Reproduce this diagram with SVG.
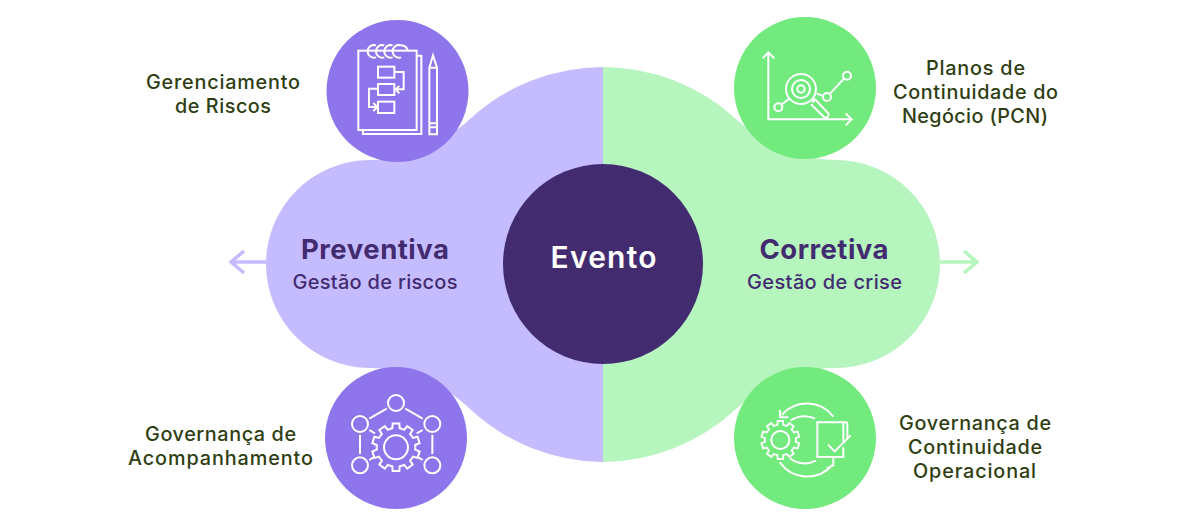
<svg xmlns="http://www.w3.org/2000/svg" width="1200" height="528" viewBox="0 0 1200 528">
<style>
text{font-family:"Inter","Noto Sans",sans-serif;text-anchor:middle;font-variant-ligatures:none}
.lab{font-size:19.800px;fill:#2f3d12;font-weight:500}
.t{font-size:27.500px;font-weight:700;fill:#432b70}
.s{font-size:20px;fill:#432b70;font-weight:500}
.i{fill:none;stroke:#fff;stroke-width:6;stroke-linejoin:miter;stroke-linecap:butt}
</style>
<defs>
<path id="tooth" d="M-17.9-55.2 L-11-57 L-10-71.3 L10-71.3 L11-57 L17.9-55.2"/>
<g id="gear">
<use href="#tooth"/><use href="#tooth" transform="rotate(36)"/><use href="#tooth" transform="rotate(72)"/><use href="#tooth" transform="rotate(108)"/><use href="#tooth" transform="rotate(144)"/><use href="#tooth" transform="rotate(180)"/><use href="#tooth" transform="rotate(216)"/><use href="#tooth" transform="rotate(252)"/><use href="#tooth" transform="rotate(288)"/><use href="#tooth" transform="rotate(324)"/>
</g>
</defs>
<g id="connectors">
<path d="M267 262H232M244 251L231 262L244 273" fill="none" stroke="#c5bcff" stroke-width="3.500"/>
<path d="M940 262H976M964 251L977 262L964 273" fill="none" stroke="#b6f5bd" stroke-width="3.500"/>
</g>
<g id="node-preventiva">
<path fill="#c5bcff" d="M603 67A197.5 197.5 0 0 0 470 119C445 142 410 160 370 160A104 104 0 0 0 370 368C410 368 445 385 470 409A197.5 197.5 0 0 0 603 462Z"/>
<text class="t" x="375" y="259" textLength="148" lengthAdjust="spacing">Preventiva</text>
<text class="s" x="375" y="289" textLength="165" lengthAdjust="spacing">Gestão de riscos</text>
</g>
<g id="node-corretiva">
<path fill="#b6f5bd" d="M603 67A197.5 197.5 0 0 1 736 119C761 142 796 160 836 160A104 104 0 0 1 836 368C796 368 761 385 736 409A197.5 197.5 0 0 1 603 462Z"/>
<text class="t" x="824" y="259" textLength="129" lengthAdjust="spacing">Corretiva</text>
<text class="s" x="824.500" y="289" textLength="155" lengthAdjust="spacing">Gestão de crise</text>
</g>
<g id="node-evento">
<circle cx="603" cy="264" r="100" fill="#432b70"/>
<text x="603.500" y="268" font-size="30" font-weight="600" fill="#fff" textLength="106" lengthAdjust="spacing">Evento</text>
</g>
<g id="node-gerenciamento">
<circle cx="397.500" cy="91" r="71" fill="#8e75ec"/>
<g transform="translate(320,10) scale(.33333)" class="i">
<rect x="115" y="122" width="175" height="238"/>
<path d="M290 137H304V372H129V360"/>
<path d="M168 106a19 19 0 1 0 0 36M193 106a19 19 0 1 0 0 36M218 106a19 19 0 1 0 0 36M243 106a19 19 0 1 0 0 36M150 108q9-5 18-2M175 108q9-5 18-2M200 108q9-5 18-2M225 108q9-5 18-2M243 106q17 1 20 16"/>
<rect x="174" y="170" width="49" height="33"/>
<rect x="174" y="222" width="49" height="33"/>
<rect x="174" y="275" width="49" height="34"/>
<path d="M223 186H251V238H228M238 228L227 238L238 250"/>
<path d="M174 236H147V291H170M160 279L172 291L160 303"/>
<path d="M328 173L339 136L351 173V373H328ZM328 173H351M328 340H351M328 352H351"/>
</g>
<text class="lab" x="223" y="89" textLength="154" lengthAdjust="spacing">Gerenciamento</text>
<text class="lab" x="223" y="113" textLength="96" lengthAdjust="spacing">de Riscos</text>
</g>
<g id="node-planos">
<circle cx="805" cy="88" r="71" fill="#72ea7e"/>
<g transform="translate(725,10) scale(.33333)" class="i">
<path d="M130 128V328H378M113 145L130 127L148 145M362 310L380 328L362 346"/>
<circle cx="228" cy="237" r="45"/>
<circle cx="228" cy="237" r="27"/>
<circle cx="228" cy="237" r="11"/>
<path d="M261 275L270 268L310 310A9 9 0 0 1 298 322L258 283M270 268L262 277"/>
<circle cx="160" cy="292" r="12"/>
<circle cx="306" cy="261" r="12"/>
<circle cx="366" cy="197" r="12"/>
<path d="M171 283L193 266M275 251L295 258M315 251L357 206"/>
</g>
<text class="lab" x="975.500" y="75" textLength="99" lengthAdjust="spacing">Planos de</text>
<text class="lab" x="975.500" y="99" textLength="165" lengthAdjust="spacing">Continuidade do</text>
<text class="lab" x="975" y="123" textLength="146" lengthAdjust="spacing">Negócio (PCN)</text>
</g>
<g id="node-acompanhamento">
<circle cx="396" cy="438" r="71" fill="#8e75ec"/>
<g transform="translate(320,360) scale(.33333)" class="i">
<circle cx="228" cy="129" r="24"/>
<circle cx="120" cy="192" r="24"/>
<circle cx="337" cy="192" r="24"/>
<circle cx="120" cy="316" r="24"/>
<circle cx="337" cy="316" r="24"/>
<path d="M148 176L200 146M256 146L308 176M120 224V282M337 224V282M148 210L165 220M290 220L308 210M148 300L165 290M290 290L308 300"/>
<use href="#gear" transform="translate(228,262)"/>
<circle cx="228" cy="262" r="36"/>
</g>
<text class="lab" x="220.500" y="441" textLength="151" lengthAdjust="spacing">Governança de</text>
<text class="lab" x="220.500" y="465" textLength="185" lengthAdjust="spacing">Acompanhamento</text>
</g>
<g id="node-governanca">
<circle cx="805" cy="438" r="71" fill="#72ea7e"/>
<g transform="translate(725,360) scale(.33333)" class="i">
<use href="#gear" transform="translate(166,240) scale(.8)" style="stroke-width:7"/>
<circle cx="166" cy="240" r="27"/>
<path d="M355 262V291H277V187H362Q367 187 367 193V236M355 187V248"/>
<path d="M309 254L329 274L377 226"/>
<path d="M325 170A100 100 0 0 0 170 165M165 150V172H190"/>
<path d="M197 182A70 70 0 0 1 270 176"/>
<path d="M164 306A100 100 0 0 0 322 315M305 325L325 316L325 295"/>
<path d="M195 295A70 70 0 0 0 272 302"/>
</g>
<text class="lab" x="975" y="430" textLength="152" lengthAdjust="spacing">Governança de</text>
<text class="lab" x="975" y="454" textLength="134" lengthAdjust="spacing">Continuidade</text>
<text class="lab" x="974.500" y="478" textLength="123" lengthAdjust="spacing">Operacional</text>
</g>
</svg>
